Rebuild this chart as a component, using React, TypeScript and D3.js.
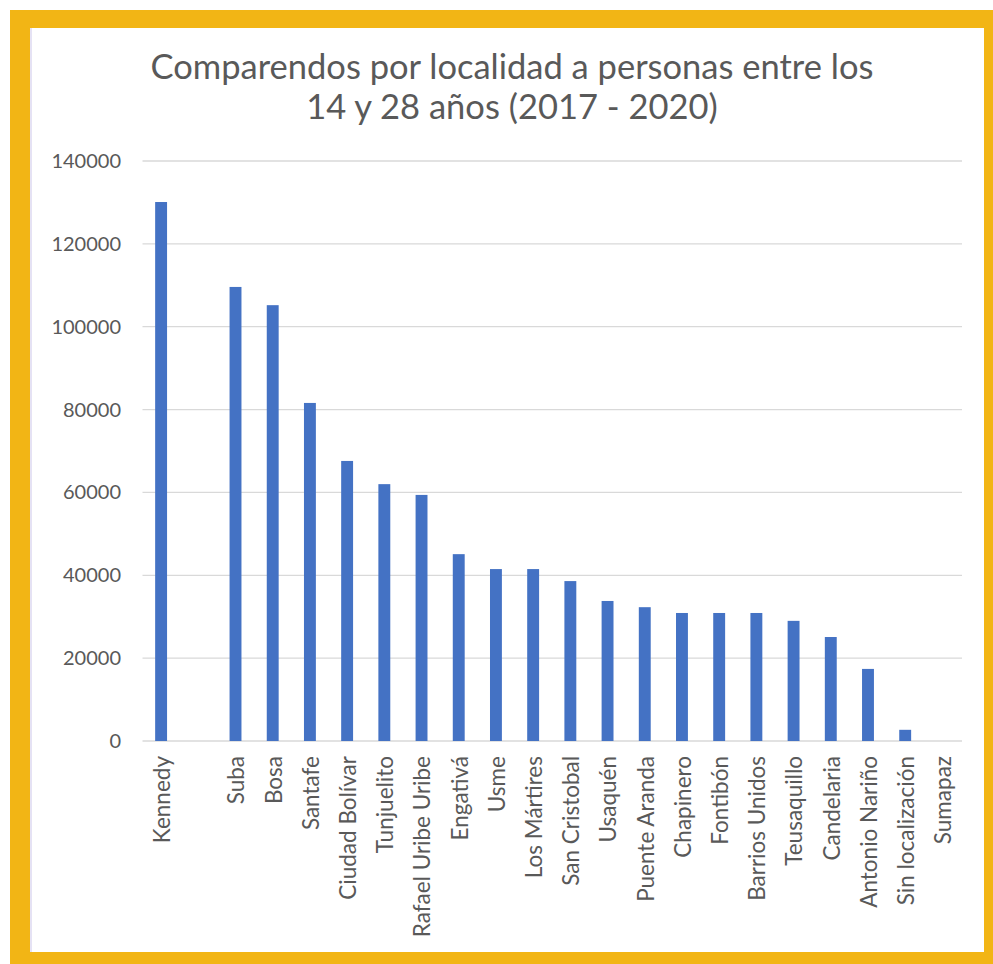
import React from "react";
import * as d3 from "d3";

const categories = [
  "Kennedy", "", "Suba", "Bosa", "Santafe", "Ciudad Bolívar", "Tunjuelito",
  "Rafael Uribe Uribe", "Engativá", "Usme", "Los Mártires", "San Cristobal",
  "Usaquén", "Puente Aranda", "Chapinero", "Fontibón", "Barrios Unidos",
  "Teusaquillo", "Candelaria", "Antonio Nariño", "Sin localización", "Sumapaz",
];
const values = [
  130100, 0, 109600, 105200, 81600, 67600, 62000,
  59400, 45100, 41500, 41500, 38600,
  33800, 32300, 30900, 30900, 30900,
  29000, 25100, 17400, 2700, 0,
];
const yTicks = [0, 20000, 40000, 60000, 80000, 100000, 120000, 140000];
const titleLines = [
  "Comparendos por localidad a personas entre los",
  "14 y 28 años (2017 - 2020)",
];

const W = 993;
const H = 964;
const plot = { left: 142.5, right: 961, top: 161, bottom: 741 };
const FONT = "Lato, 'Open Sans', sans-serif";

export default function App() {
  const x = d3
    .scaleBand<number>()
    .domain(d3.range(categories.length))
    .range([plot.left, plot.right])
    .paddingInner(0.68)
    .paddingOuter(0.34);
  const y = d3.scaleLinear().domain([0, 140000]).range([plot.bottom, plot.top]);

  return (
    <svg
      width={W}
      height={H}
      style={{ position: "absolute", left: 0, top: 0, display: "block" }}
    >
      <rect x={0} y={0} width={W} height={H} fill="#ffffff" />
      <rect x={10} y={10} width={W - 10} height={H - 10} fill="#F2B515" />
      <rect x={30} y={28} width={954} height={924} fill="#ffffff" />
      <line x1={31} y1={28} x2={31} y2={952} stroke="#dcd8f0" strokeWidth={1.5} />

      {titleLines.map((t, i) => (
        <text
          key={i}
          x={512}
          y={79 + i * 40}
          textAnchor="middle"
          fontFamily={FONT}
          fontSize={34.5}
          fill="#595959"
        >
          {t}
        </text>
      ))}

      {yTicks.map((t) => (
        <g key={t}>
          <line
            x1={plot.left}
            x2={plot.right + 1}
            y1={y(t)}
            y2={y(t)}
            stroke="#d9d9d9"
            strokeWidth={1.3}
          />
          <text
            x={121}
            y={y(t)}
            dy="0.35em"
            textAnchor="end"
            fontFamily={FONT}
            fontSize={20}
            fill="#595959"
          >
            {t}
          </text>
        </g>
      ))}

      {values.map((v, i) => (
        <rect
          key={i}
          x={x(i)!}
          y={y(v)}
          width={x.bandwidth()}
          height={plot.bottom - y(v)}
          fill="#4472C4"
        />
      ))}

      {categories.map((c, i) => {
        const cx = x(i)! + x.bandwidth() / 2 + 1;
        return (
          <text
            key={i}
            transform={`translate(${cx},${plot.bottom + 15}) rotate(-90)`}
            dy="0.35em"
            textAnchor="end"
            fontFamily={FONT}
            fontSize={22.5}
            fill="#595959"
          >
            {c}
          </text>
        );
      })}
    </svg>
  );
}
